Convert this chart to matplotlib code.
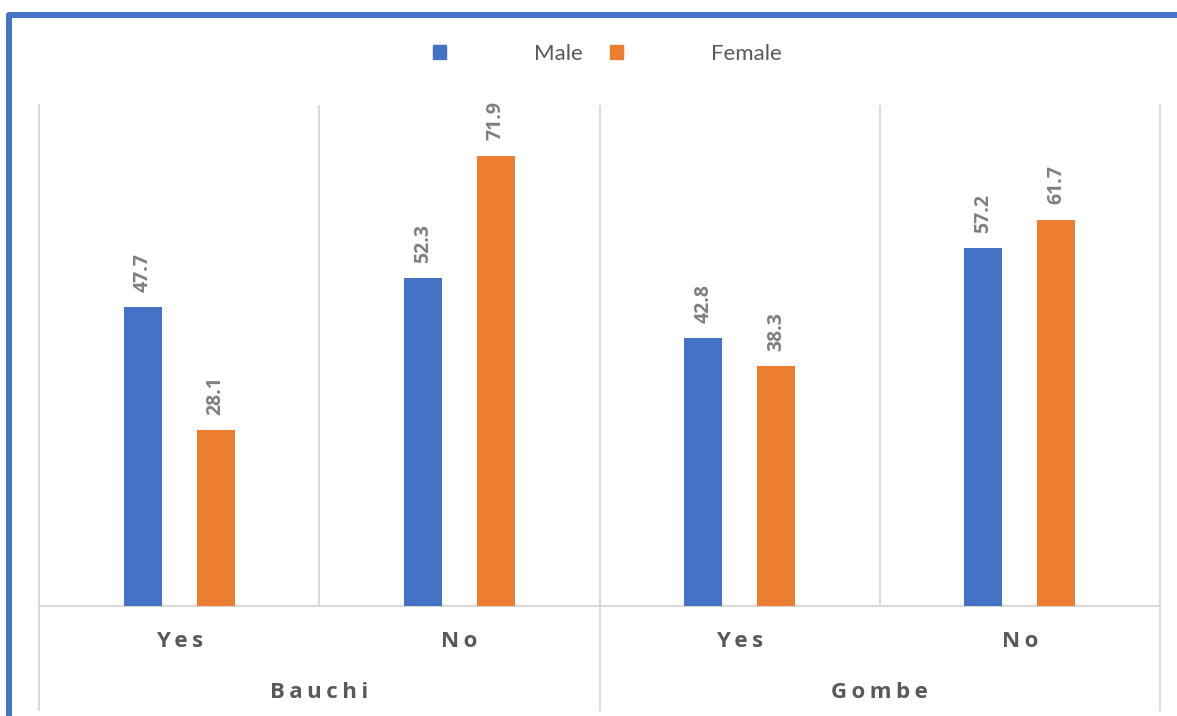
import matplotlib.pyplot as plt
from matplotlib.patches import Patch, Rectangle
import numpy as np

plt.rcParams['font.family'] = ['Lato', 'DejaVu Sans']

states = ['Bauchi', 'Gombe']
answers = ['Yes', 'No', 'Yes', 'No']
male = [47.7, 52.3, 42.8, 57.2]
female = [28.1, 71.9, 38.3, 61.7]

blue = '#4472C4'
orange = '#ED7D31'
grid = '#d9d9d9'
bold_font = ['Open Sans', 'DejaVu Sans']

fig = plt.figure(figsize=(11.77, 7.16), dpi=100)
ax = fig.add_axes([39 / 1177, 1 - 606 / 716, (1160 - 39) / 1177, (606 - 105) / 716])

x = np.arange(len(answers))
w = 0.136
ax.bar(x - 0.13, male, w, color=blue, zorder=3)
ax.bar(x + 0.13, female, w, color=orange, zorder=3)

for xi, m, f in zip(x, male, female):
    for xx, v in ((xi - 0.13, m), (xi + 0.13, f)):
        ax.annotate(f'{v}', (xx, v), xytext=(0, 11), textcoords='offset points',
                    rotation=90, ha='center', va='bottom', fontsize=14,
                    fontweight='bold', color='#7f7f7f', family=bold_font)

ax.set_xlim(-0.5, 3.5)
ax.set_ylim(0, 80)
ax.set_xticks([])
ax.set_yticks([])
for s in ax.spines.values():
    s.set_color(grid)
    s.set_linewidth(1.5)
ax.spines['top'].set_visible(False)

for sep in [0.5, 1.5, 2.5]:
    ax.axvline(sep, color=grid, lw=1.5, zorder=1)

# lines below the axis between the state groups
for sep in [-0.5, 1.5, 3.5]:
    ax.plot([sep, sep], [0, -0.208], transform=ax.get_xaxis_transform(),
            color=grid, lw=1.5, clip_on=False)

for xi, a in zip(x, answers):
    ax.text(xi, -0.07, '\u2009'.join(a), transform=ax.get_xaxis_transform(),
            ha='center', va='center', fontsize=16, fontweight='bold', color='#595959',
            family=bold_font)
for i, s in enumerate(states):
    ax.text(2 * i + 0.5, -0.172, '\u2009'.join(s), transform=ax.get_xaxis_transform(),
            ha='center', va='center', fontsize=16, fontweight='bold', color='#595959',
            family=bold_font)

handles = [Patch(color=blue, label='Male'), Patch(color=orange, label='Female')]
fig.legend(handles=handles, loc='center', bbox_to_anchor=(0.516, 1 - 54 / 716), ncol=2,
           frameon=False, fontsize=16, handlelength=0.6, handleheight=0.6,
           handletextpad=3.95, columnspacing=1.2, labelcolor='#595959')

# blue frame
fig.patches.append(Rectangle((9 / 1177, -0.1), 1.2, 1.1 - 15 / 716,
                             transform=fig.transFigure, fill=False,
                             edgecolor=blue, lw=4.3, joinstyle='round'))

fig.savefig('out.png', dpi=100)
